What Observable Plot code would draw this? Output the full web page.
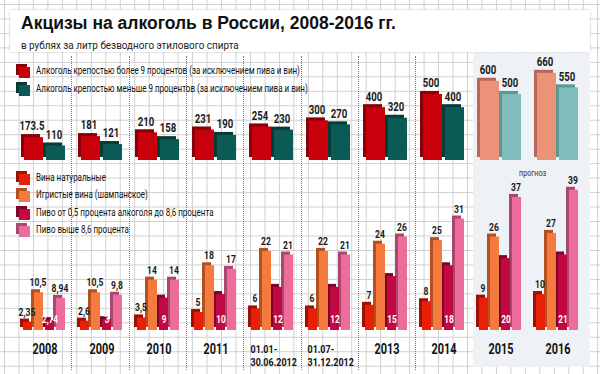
<!DOCTYPE html>
<html><head><meta charset="utf-8">
<script src="https://cdn.jsdelivr.net/npm/d3@7"></script>
<script src="https://cdn.jsdelivr.net/npm/@observablehq/plot@0.6"></script>
<style>
html,body{margin:0;padding:0;background:#fff;}
#chart{position:relative;width:600px;height:374px;overflow:hidden;background-color:#fff;
 background-image:linear-gradient(to right,#cfcfcf 1px,transparent 1px),linear-gradient(to bottom,#cfcfcf 1px,transparent 1px);
 background-size:14.47px 14.47px;background-position:4px 4px;font-family:Roboto,sans-serif;}
.abs{position:absolute;}
#titlebox{left:10px;top:10px;width:580px;height:42px;background:#fff;box-shadow:0 0 2px #bbb;}
#title{left:21px;top:13px;font-family:"Liberation Sans",Arial,sans-serif;font-weight:bold;font-size:17.5px;color:#111;white-space:nowrap;}
#subtitle{left:21px;top:39px;font-family:Roboto,sans-serif;font-size:11px;color:#222;white-space:nowrap;transform:scaleX(0.9);transform-origin:0 0;}
#forecast{left:473px;top:53px;width:117px;height:314px;background:#eef1f5;}
.sep{width:0;border-left:1px dotted #777;}
.leg{font-size:10px;color:#111;white-space:nowrap;transform:scaleX(0.8);transform-origin:0 0;}
.sw{width:11px;height:11px;}
.swb{width:11px;height:11px;}
svg{overflow:visible;}
</style></head>
<body>
<div id="chart"></div>
<script>
// ---- data ----
const groups = ["2008","2009","2010","2011","01.01-\n30.06.2012","01.07-\n31.12.2012","2013","2014","2015","2016"];
const forecastGroups = ["2015","2016"];
const topSeries = ["Алкоголь крепостью более 9 процентов (за исключением пива и вин)","Алкоголь крепостью меньше 9 процентов (за исключением пива и вин)"];
const strong = [173.5,181,210,231,254,300,400,500,600,660];
const weak = [110,121,158,190,230,270,320,400,500,550];
const bottomSeries = ["Вина натуральные","Игристые вина (шампанское)","Пиво от 0,5 процента алкоголя до 8,6 процента","Пиво выше 8,6 процента"];
const wine = [2.35,2.6,3.5,5,6,6,7,8,9,10];
const sparkling = [10.5,10.5,14,18,22,22,24,25,26,27];
const beerLow = [2.74,3,9,10,12,12,15,18,20,21];
const beerHigh = [8.94,9.8,14,17,21,21,26,31,37,39];
const title = "Акцизы на алкоголь в России, 2008-2016 гг.";
const subtitle = "в рублях за литр безводного этилового спирта";
const forecastLabel = "прогноз";

// ---- styles ----
const topFront = [["#c8000c","#0c5a55"],["#ec9278","#80bcb9"]];
const topBack = [["#8a0008","#063c38"],["#b8685a","#5b9794"]];
const botFront = ["#e8200a","#f47a3e","#c20840","#ec6c9a"];
const botBack = ["#9e1005","#b4501f","#7e0528","#a84870"];
const numFont = 'Roboto,sans-serif';

const chart = document.getElementById("chart");
function el(id, cls, css, html){const d=document.createElement("div");if(id)d.id=id;d.className="abs "+(cls||"");Object.assign(d.style,css||{});if(html!=null)d.textContent=html;chart.appendChild(d);return d;}

el("titlebox");
el("forecast");
el("title",null,null,title);
el("subtitle",null,null,subtitle);

// layout of group bands (shared by both plots)
const mL = 14, mR = 13, W = 600;
const step = (W - mL - mR) / groups.length;
for (let k = 1; k < groups.length - forecastGroups.length; k++) {
  el(null,"sep",{left:(mL+k*step)+"px",top:"56px",height:"314px"});
}

// legends
function swatch(x, y, front, back){
  el(null,"swb",{left:(x-3)+"px",top:(y-3)+"px",background:back});
  el(null,"sw",{left:x+"px",top:y+"px",background:front});
}
const topLegY = [67, 85];
topSeries.forEach((s,i)=>{ swatch(19, topLegY[i], topFront[0][i], topBack[0][i]); el(null,"leg",{left:"36px",top:(topLegY[i]-2)+"px"},s); });
const botLegY = [174, 191, 209, 226];
bottomSeries.forEach((s,i)=>{ swatch(19, botLegY[i], botFront[i], botBack[i]); el(null,"leg",{left:"36px",top:(botLegY[i]-2)+"px"},s); });
el(null,"leg",{left:"519px",top:"168px",fontSize:"9px",color:"#333"},forecastLabel);

// horizontally condense the text of a plot (narrow-type look)
function condense(svg, k){
  svg.querySelectorAll("text").forEach(t=>{
    let tr = t.getAttribute("transform") || "";
    const x = parseFloat(t.getAttribute("x"));
    if (isFinite(x) && x !== 0) { tr += ` translate(${x},0)`; t.removeAttribute("x"); }
    t.setAttribute("transform", tr + ` scale(${k},1)`);
  });
}

// ---- top plot ----
const topData = groups.flatMap((g,i)=>[
  {group:g, s:0, value:strong[i], f: forecastGroups.includes(g)?1:0},
  {group:g, s:1, value:weak[i], f: forecastGroups.includes(g)?1:0}
]);
const topPlot = Plot.plot({
  width: W, height: 110,
  marginLeft: mL, marginRight: mR, marginTop: 0, marginBottom: 5,
  fx: {domain: groups, padding: 0, axis: null},
  x: {domain: [0,1], paddingInner: 0.13, paddingOuter: 0.31, axis: null},
  y: {domain: [0, 795], axis: null},
  color: {type: "identity"},
  style: {background: "transparent"},
  marks: [
    Plot.barY(topData, {fx:"group", x:"s", y:"value", fill: d=>topBack[d.f][d.s], dx:-3, dy:-3}),
    Plot.barY(topData, {fx:"group", x:"s", y:"value", fill: d=>topFront[d.f][d.s]}),
    Plot.text(topData, {fx:"group", x:"s", y:"value", text: d=>String(d.value), dy:-11, dx:-2,
      fontFamily: numFont, fontWeight: "bold", fontSize: 12, fill: "#1a1a1a"})
  ]
});
condense(topPlot, 0.8);
Object.assign(topPlot.style,{position:"absolute",left:"0px",top:"55px"});
chart.appendChild(topPlot);

// ---- bottom plot ----
const series4 = [wine, sparkling, beerLow, beerHigh];
const botData = groups.flatMap((g,i)=>series4.map((arr,s)=>({group:g, s, value:arr[i]})));
const fmt = v => String(v).replace(".", ",");
const single = groups.filter(g=>!g.includes("\n")).map(g=>({group:g}));
const multi = groups.filter(g=>g.includes("\n")).map(g=>({group:g}));
const botPlot = Plot.plot({
  width: W, height: 214,
  marginLeft: mL, marginRight: mR, marginTop: 19, marginBottom: 44,
  fx: {domain: groups, padding: 0, axis: null},
  x: {domain: [0,1,2,3], paddingInner: 0.17, paddingOuter: 0.58, axis: null},
  y: {domain: [0, 42], axis: null},
  color: {type: "identity"},
  style: {background: "transparent"},
  marks: [
    Plot.barY(botData, {fx:"group", x:"s", y:"value", fill: d=>botBack[d.s], dx:-3, dy:-3}),
    Plot.barY(botData, {fx:"group", x:"s", y:"value", fill: d=>botFront[d.s]}),
    Plot.text(botData.filter(d=>d.s!==2), {fx:"group", x:"s", y:"value", text: d=>fmt(d.value), dy:-10, dx:-1,
      fontFamily: numFont, fontWeight: "bold", fontSize: 11, fill: "#1a1a1a"}),
    Plot.text(botData.filter(d=>d.s===2), {fx:"group", x:"s", text: d=>fmt(d.value), frameAnchor:"bottom", dy:-8,
      fontFamily: numFont, fontWeight: "bold", fontSize: 10.5, fill: "#fff"}),
    Plot.text(single, {fx:"group", text:"group", frameAnchor:"bottom", dy:23,
      fontFamily: numFont, fontWeight: "bold", fontSize: 14, fill: "#111"}),
    Plot.text(multi, {fx:"group", text:"group", frameAnchor:"bottom-left", textAnchor:"start", lineAnchor:"top", dx:6, dy:13, lineHeight:1.15,
      fontFamily: numFont, fontWeight: "bold", fontSize: 11.5, fill: "#111"})
  ]
});
condense(botPlot, 0.78);
Object.assign(botPlot.style,{position:"absolute",left:"0px",top:"160px"});
chart.appendChild(botPlot);
</script>
</body></html>
